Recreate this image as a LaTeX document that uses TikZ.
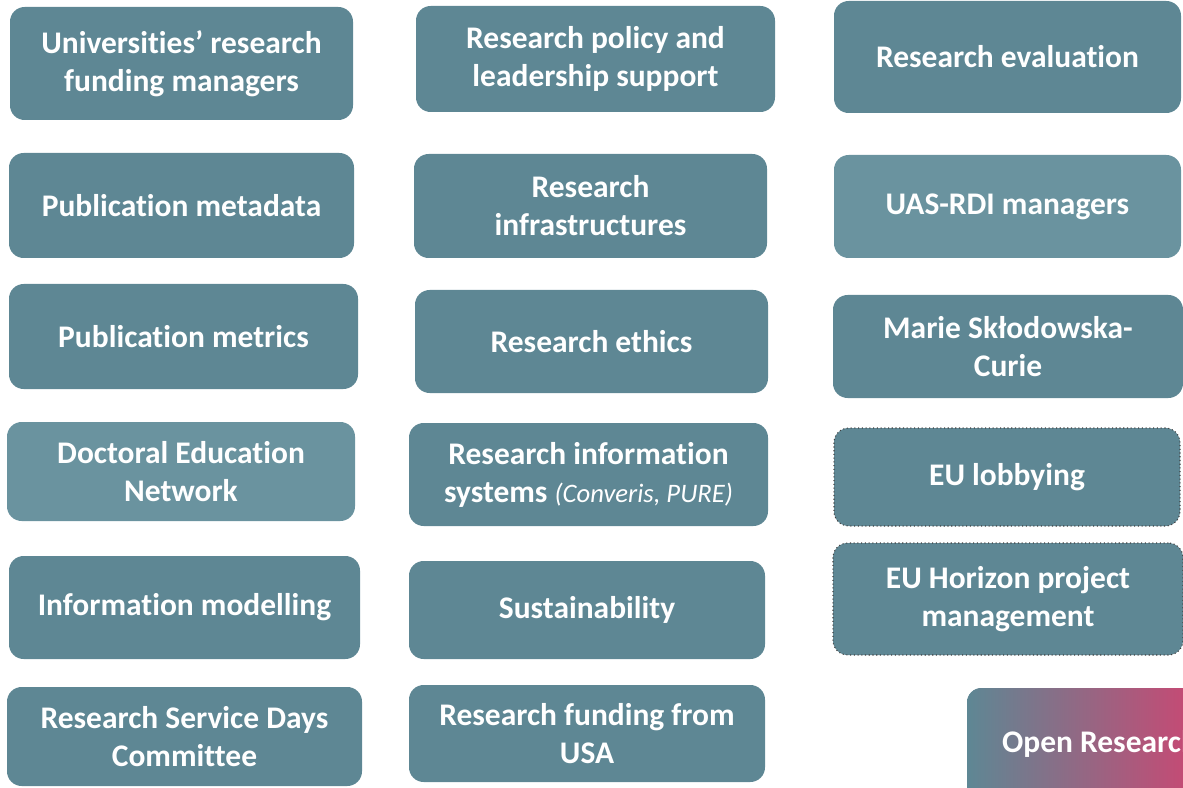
\documentclass[tikz,border=0pt]{standalone}
\usepackage{fontspec}
\setmainfont[Ligatures=NoCommon]{Carlito}
\usetikzlibrary{positioning}
\definecolor{tealbox}{RGB}{94,135,148}
\definecolor{tealpale}{RGB}{106,147,159}
\definecolor{openpink}{RGB}{218,62,110}
\newcommand{\asidefont}{\mdseries\itshape\fontsize{20}{28.5}\selectfont}

\begin{document}
\begin{tikzpicture}[x=0.75pt,y=-0.75pt,
	topic/.style={fill=tealbox, rounded corners=11pt, text=white, align=center, inner sep=0pt, font=\bfseries\fontsize{23.6}{28.5}\selectfont},
	boxsize/.style 2 args={minimum width=#1*0.75pt, minimum height=#2*0.75pt},
	pale/.style={fill=tealpale},
	dotrim/.style={draw=black!75, dotted, line width=0.8pt}]
		\useasboundingbox (0,0) rectangle (1183,788);
		% first column
		\node[topic, boxsize={343}{113}] (fundmgr) at (181.5,63.5) {Universities’ research\\funding managers};
		\node[topic, boxsize={345}{105}] (pubmeta) at (181.5,205.5) {Publication metadata};
		\node[topic, boxsize={349}{105}] (pubmetr) at (183.5,336.5) {Publication metrics};
		\node[topic, pale, boxsize={348}{99}] (doctoral) at (181,471.5) {Doctoral Education\\Network};
		\node[topic, boxsize={351}{103}] (infomod) at (184.5,607.5) {Information modelling};
		\node[topic, boxsize={355}{99}] (servdays) at (184.5,736.5) {Research Service Days\\Committee};
		% second column
		\node[topic, boxsize={359}{106}] (policy) at (595.5,59) {Research policy and\\leadership support};
		\node[topic, boxsize={353}{104}] (infra) at (590.5,206) {Research\\infrastructures};
		\node[topic, boxsize={353}{103}] (ethics) at (591.5,341.5) {Research ethics};
		\node[topic, boxsize={359}{103}] (ris) at (588.5,474.5) {Research information\\systems {\asidefont(Converis, PURE)}};
		\node[topic, boxsize={356}{98}] (sustain) at (587,610) {Sustainability};
		\node[topic, boxsize={356}{97}] (usa) at (587,733.5) {Research funding from\\USA};
		% third column
		\node[topic, boxsize={347}{112}] (evaluation) at (1007.5,57) {Research evaluation};
		\node[topic, pale, boxsize={347}{103}] (uasrdi) at (1007.5,206.5) {UAS-RDI managers};
		\node[topic, boxsize={350}{103}] (msca) at (1008,346.5) {Marie Skłodowska-\\Curie};
		\node[topic, dotrim, boxsize={346}{98}] (lobby) at (1007,477) {EU lobbying};
		\node[topic, dotrim, boxsize={350}{112}] (horizon) at (1008,599) {EU Horizon project\\management};
		\begin{scope}
			\clip (0,0) rectangle (1183,788);
			\node[topic, left color=tealbox, right color=openpink, boxsize={266}{112}] (openres) at (1100,744) {Open Research};
		\end{scope}
\end{tikzpicture}
\end{document}
